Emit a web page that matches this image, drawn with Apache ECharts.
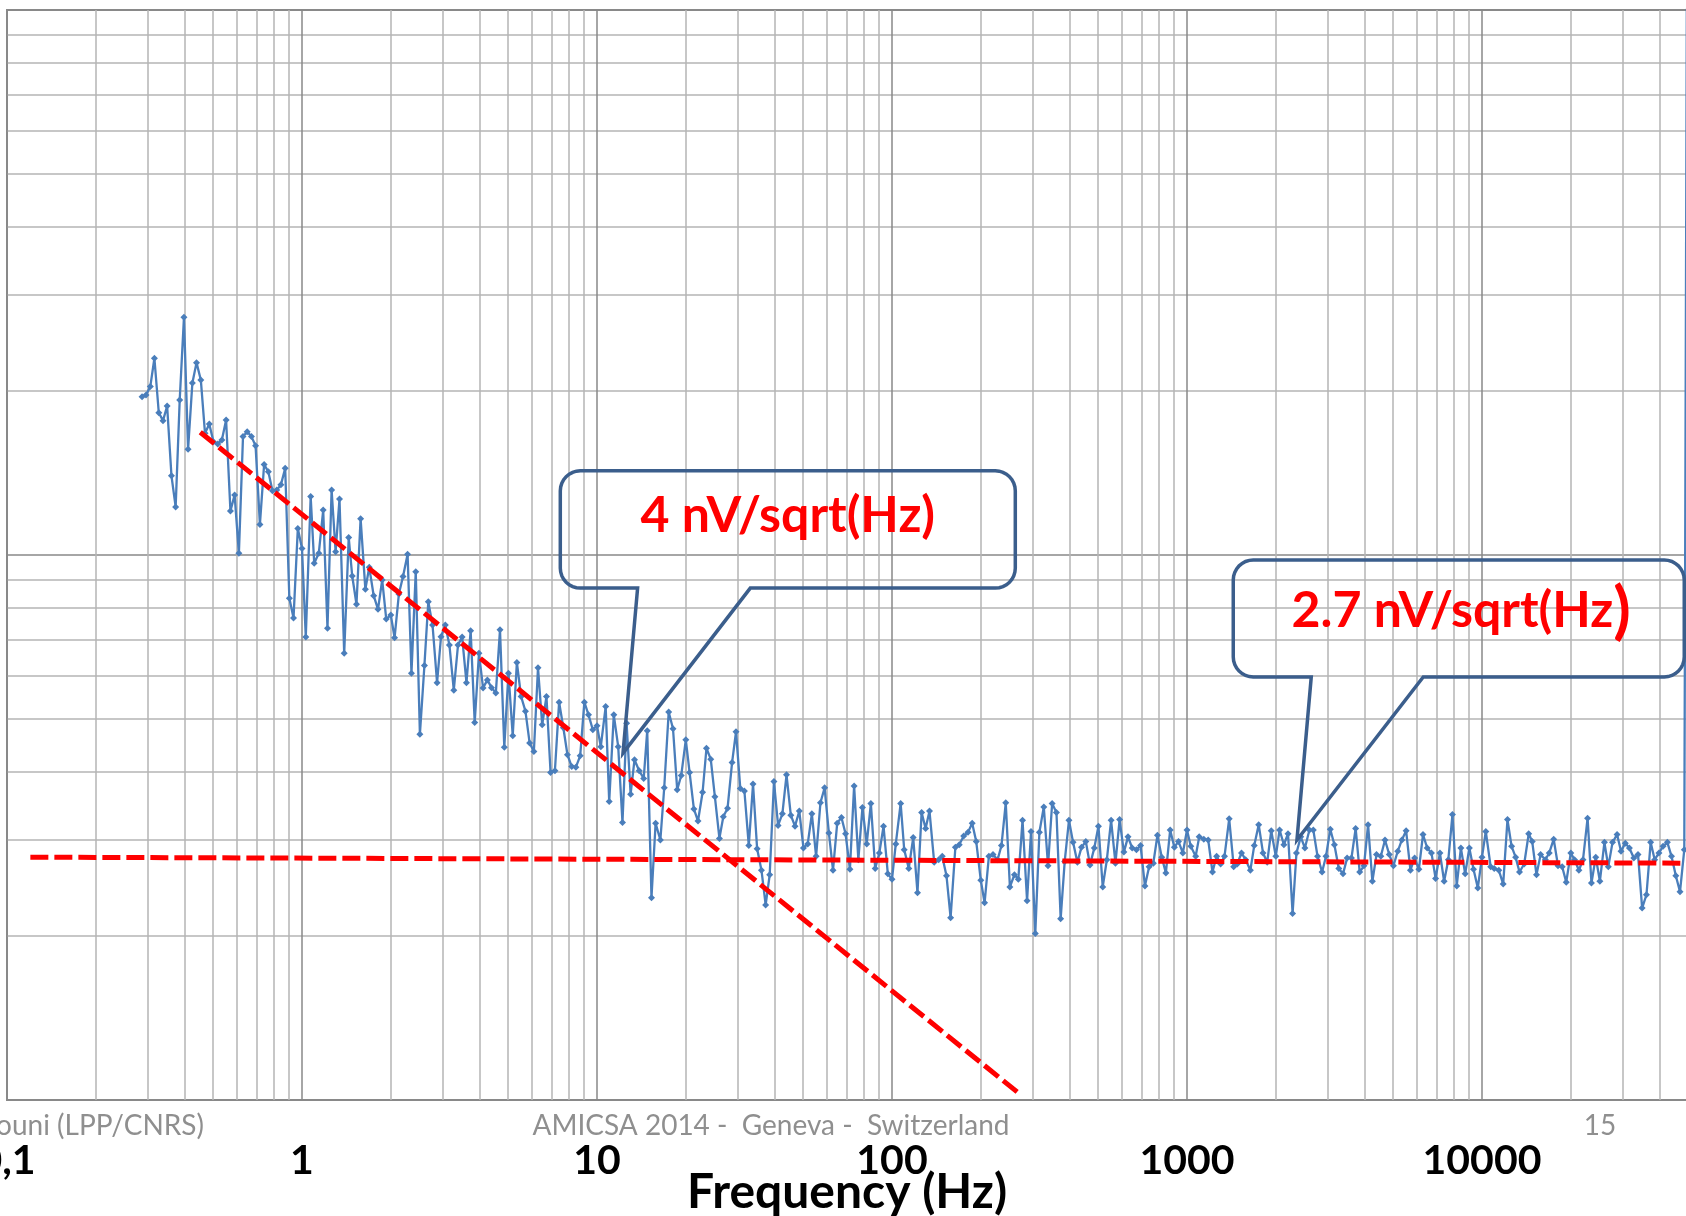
<!DOCTYPE html>
<html>
<head>
    <meta charset="utf-8"/>
    <script src="https://cdn.jsdelivr.net/npm/echarts@6/dist/echarts.min.js"></script>
    <style>
        html, body { margin: 0; padding: 0; background: #fff; overflow: hidden; }
        #container { width: 1800px; height: 1216px; }
    </style>
</head>
<body>
<div id="container"></div>
<script type="text/javascript">
    // sweep frequencies in Hz (70 points per decade)
    var freqs = [
        0.287, 0.296, 0.306, 0.316, 0.327, 0.338, 0.349, 0.361, 0.373, 0.385, 0.398, 0.411, 0.425, 0.439, 0.454, 0.469, 0.485, 0.501, 0.518, 0.535,
        0.553, 0.572, 0.591, 0.611, 0.631, 0.652, 0.674, 0.696, 0.720, 0.744, 0.769, 0.794, 0.821, 0.848, 0.877, 0.906, 0.936, 0.968,
        1.00, 1.03, 1.07, 1.10, 1.14, 1.18, 1.22, 1.26, 1.30, 1.34, 1.39, 1.44, 1.48, 1.53, 1.58, 1.64, 1.69, 1.75, 1.81, 1.87,
        1.93, 2.00, 2.06, 2.13, 2.20, 2.28, 2.35, 2.43, 2.51, 2.60, 2.68, 2.77, 2.87, 2.96, 3.06, 3.16, 3.27, 3.38, 3.49, 3.61,
        3.73, 3.85, 3.98, 4.11, 4.25, 4.39, 4.54, 4.69, 4.85, 5.01, 5.18, 5.35, 5.53, 5.72, 5.91, 6.11, 6.31, 6.52, 6.74, 6.96,
        7.20, 7.44, 7.69, 7.94, 8.21, 8.48, 8.77, 9.06, 9.36, 9.68,
        10.0, 10.3, 10.7, 11.0, 11.4, 11.8, 12.2, 12.6, 13.0, 13.4, 13.9, 14.4, 14.8, 15.3, 15.8, 16.4, 16.9, 17.5, 18.1, 18.7,
        19.3, 20.0, 20.6, 21.3, 22.0, 22.8, 23.5, 24.3, 25.1, 26.0, 26.8, 27.7, 28.7, 29.6, 30.6, 31.6, 32.7, 33.8, 34.9, 36.1,
        37.3, 38.5, 39.8, 41.1, 42.5, 43.9, 45.4, 46.9, 48.5, 50.1, 51.8, 53.5, 55.3, 57.2, 59.1, 61.1, 63.1, 65.2, 67.4, 69.6,
        72.0, 74.4, 76.9, 79.4, 82.1, 84.8, 87.7, 90.6, 93.6, 96.8,
        100, 103, 107, 110, 114, 118, 122, 126, 130, 134, 139, 144, 148, 153, 158, 164, 169, 175, 181, 187,
        193, 200, 206, 213, 220, 228, 235, 243, 251, 260, 268, 277, 287, 296, 306, 316, 327, 338, 349, 361,
        373, 385, 398, 411, 425, 439, 454, 469, 485, 501, 518, 535, 553, 572, 591, 611, 631, 652, 674, 696,
        720, 744, 769, 794, 821, 848, 877, 906, 936, 968,
        1000, 1030, 1070, 1100, 1140, 1180, 1220, 1260, 1300, 1340, 1390, 1440, 1480, 1530, 1580, 1640, 1690, 1750, 1810, 1870,
        1930, 2000, 2060, 2130, 2200, 2280, 2350, 2430, 2510, 2600, 2680, 2770, 2870, 2960, 3060, 3160, 3270, 3380, 3490, 3610,
        3730, 3850, 3980, 4110, 4250, 4390, 4540, 4690, 4850, 5010, 5180, 5350, 5530, 5720, 5910, 6110, 6310, 6520, 6740, 6960,
        7200, 7440, 7690, 7940, 8210, 8480, 8770, 9060, 9360, 9680,
        10000, 10300, 10700, 11000, 11400, 11800, 12200, 12600, 13000, 13400, 13900, 14400, 14800, 15300, 15800, 16400, 16900, 17500, 18100, 18700,
        19300, 20000, 20600, 21300, 22000, 22800, 23500, 24300, 25100, 26000, 26800, 27700, 28700, 29600, 30600, 31600, 32700, 33800, 34900, 36100,
        37300, 38500, 39800, 41100, 42500, 43900, 45400, 46900, 48500, 50100
    ];

    // measured noise density in nV/sqrt(Hz), last point is off scale
    var noise = [
        19.52, 19.67, 20.37, 22.96, 18.24, 17.64, 18.77, 13.97, 12.25, 19.25,
        27.30, 15.63, 20.69, 22.54, 20.95, 16.73, 17.40, 16.14, 15.99, 16.26,
        17.69, 12.04, 12.89, 10.07, 16.49, 16.84, 16.49, 15.87, 11.38, 14.65,
        14.22, 13.12, 13.16, 13.45, 14.43, 8.33, 7.66, 11.19, 10.28, 7.07,
        12.80, 9.66, 10.07, 12.09, 7.34, 13.16, 10.14, 12.67, 6.60, 10.77,
        9.15, 8.12, 11.66, 8.65, 9.50, 8.42, 7.95, 9.00,
        7.63, 7.76, 7.05, 8.48, 9.13, 10.03, 6.07, 9.32, 4.69, 6.27,
        8.21, 7.44, 5.83, 7.08, 7.44, 6.84, 5.65, 6.84, 7.07, 5.83,
        7.26, 4.93, 6.60, 5.70, 5.90, 5.71, 5.58, 7.29, 4.44, 6.07,
        4.66, 6.35, 5.50, 5.17, 4.52, 4.36, 6.21, 4.88, 5.50, 3.99,
        4.02, 5.37, 4.82, 4.30, 4.09, 4.08, 4.28, 5.37, 5.09, 4.78,
        4.86, 4.45, 5.27, 3.53, 5.09, 4.45, 3.23,
        4.91, 3.64, 4.21, 4.02, 3.89, 4.76, 2.35, 3.22, 3.00, 3.74,
        5.15, 4.80, 3.71, 3.94, 4.58, 3.99, 3.42, 3.25, 3.67, 4.42,
        4.22, 3.60, 3.02, 3.31, 3.43, 4.16, 4.74, 3.73, 3.69, 2.93,
        3.80, 2.89, 2.64, 2.28, 2.59, 3.84, 3.19, 3.35, 3.95, 3.33,
        3.18, 3.39, 2.90, 2.95, 3.35, 2.80, 3.51, 3.74, 3.09, 2.64,
        3.22, 3.30, 3.08, 2.65, 3.77, 2.76, 3.44, 2.95, 3.50,
        2.66, 2.84, 3.18, 2.60, 2.54, 2.95, 3.50, 2.88, 2.66, 3.03,
        2.40, 3.37, 3.15, 3.39, 2.73, 2.76, 2.80, 2.58, 2.16, 2.91,
        2.94, 3.05, 3.10, 3.22, 2.98, 2.53, 2.30, 2.80, 2.82, 2.76,
        2.93, 3.51, 2.46, 2.59, 2.54, 3.26, 2.32, 3.11, 2.02, 3.10,
        3.45, 2.69, 3.50, 3.37, 2.15, 2.74, 3.26, 2.97, 2.73, 2.91,
        2.98, 2.70, 2.90, 3.18, 2.46, 2.76, 3.26, 2.72, 3.27,
        2.85, 3.04, 2.90, 2.88, 2.93, 2.47, 2.68, 2.72, 3.06, 2.79,
        2.61, 3.13, 2.91, 2.98, 2.84, 3.13, 2.92, 2.80,
        3.04, 3.01, 3.00, 2.62, 2.80, 2.71, 2.80, 3.28, 2.68, 2.71,
        2.84, 2.76, 2.64, 2.93, 3.20, 2.84, 2.73, 3.12, 2.80, 3.13,
        2.94, 3.08, 2.20, 2.84, 3.04, 2.90, 3.13, 3.13, 2.80, 2.62,
        2.80, 3.14, 2.94, 2.66, 2.60, 2.78, 2.78, 3.15, 2.62, 2.69,
        3.20, 2.52, 2.82, 2.80, 3.00, 2.82, 2.69, 2.86, 3.00, 3.12,
        2.64, 2.78, 2.65, 3.07, 2.90, 2.84, 2.55, 2.84, 2.52, 2.76,
        3.34, 2.47, 2.90, 2.60, 2.90, 2.65, 2.45, 2.79, 3.11, 2.68,
        2.66, 2.64, 2.49, 3.27, 2.92, 2.79, 2.62, 2.71, 3.08, 2.98,
        2.59, 2.82, 2.76, 2.84, 3.01, 2.69, 2.68, 2.51, 2.84, 2.76,
        2.64, 2.76, 3.29, 2.50, 2.79, 2.52, 2.97, 2.68, 2.97, 3.07,
        2.86, 2.96, 2.90, 2.78, 2.82, 2.25, 2.38, 2.97, 2.76, 2.84,
        2.92, 2.97, 2.80, 2.58, 2.41, 2.88,
        1000
    ];

    // hand drawn asymptotes [Hz, nV/sqrt(Hz)]
    var flickerLine = [[0.452, 16.8], [266, 1.034]];
    var whiteLine = [[0.12, 2.79], [50000, 2.72]];

    var xTickValues = [0.1, 1, 10, 100, 1000, 10000, 100000];
    var xTickLabels = ['0,1', '1', '10', '100', '1000', '10000', '100000'];

    // callouts: tip in data coords, text
    var callouts = [
        {tip: [12.25, 4.33], text: '{a|4 nV/sqrt(Hz)}'},
        {tip: [2359, 3.0], text: '{a|2.7 nV/sqrt(Hz}{b|)}'}
    ];

    var footerTexts = ['ouni (LPP/CNRS)', 'AMICSA 2014 -  Geneva -  Switzerland', '15'];

    var points = [];
    for (var i = 0; i < freqs.length; i++) {
        points.push([freqs[i], noise[i]]);
    }

    var dom = document.getElementById("container");
    var myChart = echarts.init(dom);
    var minorColor = '#b5b5b5';
    var majorColor = '#888888';

    option = {
        animation: false,
        backgroundColor: '#ffffff',
        grid: {
            left: 7, top: 10, width: 1770, height: 1090,
            show: true, borderColor: '#8a8a8a', borderWidth: 2,
            containLabel: false, outerBoundsMode: 'none'
        },
        xAxis: {
            type: 'log', logBase: 10, min: 0.1, max: 100000,
            axisLine: {show: false},
            axisTick: {show: false},
            minorTick: {show: false, splitNumber: 9},
            splitLine: {show: true, lineStyle: {color: majorColor, width: 1.5}},
            minorSplitLine: {show: true, lineStyle: {color: minorColor, width: 1.5}},
            axisLabel: {
                margin: 40,
                fontFamily: 'Lato', fontWeight: 'bold', fontSize: 41, color: '#000',
                formatter: function (v) {
                    for (var k = 0; k < xTickValues.length; k++) {
                        if (Math.abs(v - xTickValues[k]) < xTickValues[k] * 1e-6) return xTickLabels[k];
                    }
                    return '';
                }
            }
        },
        yAxis: {
            type: 'log', logBase: 10, min: 1, max: 100,
            axisLine: {show: false},
            axisTick: {show: false},
            axisLabel: {show: false},
            minorTick: {show: false, splitNumber: 9},
            splitLine: {show: true, lineStyle: {color: majorColor, width: 1.5}},
            minorSplitLine: {show: true, lineStyle: {color: minorColor, width: 1.5}}
        },
        series: [
            {
                name: 'noise',
                type: 'line',
                data: points,
                showAllSymbol: true,
                symbol: 'diamond',
                symbolSize: 7,
                lineStyle: {color: '#4a7ebb', width: 2.3},
                itemStyle: {color: '#4a7ebb'},
                z: 3
            },
            {
                name: 'flicker',
                type: 'line',
                data: flickerLine,
                symbol: 'none',
                lineStyle: {color: '#ff0000', width: 5, type: [18, 6]},
                z: 4
            },
            {
                name: 'white',
                type: 'line',
                data: whiteLine,
                symbol: 'none',
                lineStyle: {color: '#ff0000', width: 5, type: [18, 6]},
                z: 4
            }
        ]
    };

    if (option && typeof option === "object") {
        myChart.setOption(option, true);
    }

    function calloutShape(x0, y0, x1, y1, r, bl, br, tx, ty) {
        var pts = [];
        function arc(cx, cy, a0, a1) {
            for (var k = 0; k <= 8; k++) {
                var a = a0 + (a1 - a0) * k / 8;
                pts.push([cx + r * Math.cos(a), cy + r * Math.sin(a)]);
            }
        }
        arc(x0 + r, y0 + r, Math.PI, 1.5 * Math.PI);
        arc(x1 - r, y0 + r, 1.5 * Math.PI, 2 * Math.PI);
        arc(x1 - r, y1 - r, 0, 0.5 * Math.PI);
        pts.push([br, y1], [tx, ty], [bl, y1]);
        arc(x0 + r, y1 - r, 0.5 * Math.PI, Math.PI);
        return pts;
    }

    var graphics = [];
    var boxDims = [
        {l: -62.7, r: 392.3, t: -282.3, b: -165, bl: 14.6, br: 127.3, tx: 164.8, ty: -237.3},
        {l: -63.7, r: 387.3, t: -280, b: -163, bl: 14.3, br: 126.3, tx: 164.3, ty: -229}
    ];
    for (var c = 0; c < callouts.length; c++) {
        var p = myChart.convertToPixel({gridIndex: 0}, callouts[c].tip);
        var d = boxDims[c];
        graphics.push({
            type: 'polygon',
            shape: {points: calloutShape(p[0] + d.l, p[1] + d.t, p[0] + d.r, p[1] + d.b, 20,
                p[0] + d.bl, p[0] + d.br, p[0], p[1])},
            style: {fill: 'transparent', stroke: '#3b5e8c', lineWidth: 3.5},
            z: 100
        });
        graphics.push({
            type: 'text',
            x: p[0] + d.tx, y: p[1] + d.ty,
            style: {
                text: callouts[c].text,
                align: 'center', verticalAlign: 'middle',
                rich: {
                    a: {fontFamily: 'Lato', fontWeight: 'bold', fontSize: 50, fill: '#ff0000'},
                    b: {fontFamily: 'Lato', fontWeight: 'bold', fontSize: 64, fill: '#ff0000'}
                }
            },
            z: 101
        });
    }

    graphics.push({
        type: 'text', x: 204, y: 1126,
        style: {text: footerTexts[0], align: 'right', verticalAlign: 'middle',
            fontFamily: 'Lato', fontSize: 28, fill: '#8f8f8f'}
    });
    graphics.push({
        type: 'text', x: 771, y: 1126,
        style: {text: footerTexts[1], align: 'center', verticalAlign: 'middle',
            fontFamily: 'Lato', fontSize: 28, fill: '#8f8f8f'}
    });
    graphics.push({
        type: 'text', x: 1600, y: 1126,
        style: {text: footerTexts[2], align: 'center', verticalAlign: 'middle',
            fontFamily: 'Lato', fontSize: 28, fill: '#8f8f8f'}
    });
    graphics.push({
        type: 'text', x: 847, y: 1193,
        style: {text: 'Frequency (Hz)', align: 'center', verticalAlign: 'middle',
            fontFamily: 'Lato', fontWeight: 'bold', fontSize: 48, fill: '#000'},
        z: 50
    });

    myChart.setOption({graphic: graphics});
</script>
</body>
</html>
